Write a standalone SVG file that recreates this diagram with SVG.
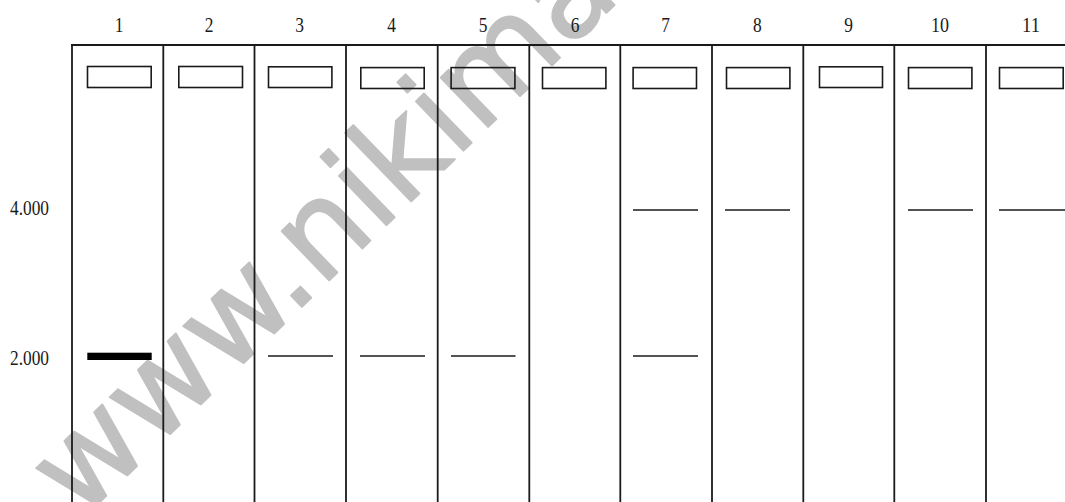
<svg xmlns="http://www.w3.org/2000/svg" width="1065" height="502" viewBox="0 0 1065 502">
<style>
.ln{stroke:#1a1a1a;stroke-width:1.8;fill:none}
.well{stroke:#1a1a1a;stroke-width:1.6;fill:none}
.band{stroke:#1a1a1a;stroke-width:1.6}
.num{font-family:"Liberation Serif","Times New Roman",serif;font-size:21px;fill:#1a1a1a;text-anchor:middle}
.lbl{font-family:"Liberation Serif","Times New Roman",serif;font-size:21px;fill:#1a1a1a}
.wm{font-family:"DejaVu Sans",Verdana,sans-serif;font-size:125px;fill:#c0c0c0;stroke:#c0c0c0;stroke-width:2;stroke-linejoin:round}
</style>
<rect width="1065" height="502" fill="#fff"/>
<text class="wm" transform="translate(80,521) rotate(-44)">www.nikimaths.com</text>
<g id="frame">
<line class="ln" x1="71" y1="45" x2="1065" y2="45"/>
</g>
<g id="markers">
<text class="lbl" x="10" y="215" textLength="39" lengthAdjust="spacingAndGlyphs">4.000</text>
<text class="lbl" x="10" y="365" textLength="39" lengthAdjust="spacingAndGlyphs">2.000</text>
</g>
<g id="lane1">
<line class="ln" x1="72" y1="45" x2="72" y2="502"/>
<text class="num" x="119" y="31.5" textLength="8.7" lengthAdjust="spacingAndGlyphs">1</text>
<rect class="well" x="87.5" y="66.5" width="63.7" height="21"/>
<rect x="87.3" y="352.7" width="64.4" height="7.3" fill="#000"/>
</g>
<g id="lane2">
<line class="ln" x1="163.3" y1="45" x2="163.3" y2="502"/>
<text class="num" x="209" y="31.5" textLength="8.7" lengthAdjust="spacingAndGlyphs">2</text>
<rect class="well" x="178.8" y="66.5" width="63.7" height="21"/>
</g>
<g id="lane3">
<line class="ln" x1="254.5" y1="45" x2="254.5" y2="502"/>
<text class="num" x="299.5" y="31.5" textLength="8.7" lengthAdjust="spacingAndGlyphs">3</text>
<rect class="well" x="268.5" y="66.8" width="63.4" height="20.7"/>
<line class="band" x1="268" y1="356" x2="333" y2="356"/>
</g>
<g id="lane4">
<line class="ln" x1="346" y1="45" x2="346" y2="502"/>
<text class="num" x="391.7" y="31.5" textLength="8.7" lengthAdjust="spacingAndGlyphs">4</text>
<rect class="well" x="360.8" y="67.6" width="63.4" height="20.9"/>
<line class="band" x1="360" y1="356" x2="425" y2="356"/>
</g>
<g id="lane5">
<line class="ln" x1="437.7" y1="45" x2="437.7" y2="502"/>
<text class="num" x="483" y="31.5" textLength="8.7" lengthAdjust="spacingAndGlyphs">5</text>
<rect class="well" x="451.1" y="67.6" width="63.8" height="20.9"/>
<line class="band" x1="451" y1="356" x2="515.5" y2="356"/>
</g>
<g id="lane6">
<line class="ln" x1="529.3" y1="45" x2="529.3" y2="502"/>
<text class="num" x="575" y="31.5" textLength="8.7" lengthAdjust="spacingAndGlyphs">6</text>
<rect class="well" x="542.5" y="67.6" width="63.4" height="20.9"/>
</g>
<g id="lane7">
<line class="ln" x1="620.3" y1="45" x2="620.3" y2="502"/>
<text class="num" x="665.5" y="31.5" textLength="8.7" lengthAdjust="spacingAndGlyphs">7</text>
<rect class="well" x="633.1" y="67.6" width="63.4" height="20.9"/>
<line class="band" x1="633" y1="210" x2="698" y2="210"/>
<line class="band" x1="633" y1="356" x2="698" y2="356"/>
</g>
<g id="lane8">
<line class="ln" x1="712" y1="45" x2="712" y2="502"/>
<text class="num" x="757.3" y="31.5" textLength="8.7" lengthAdjust="spacingAndGlyphs">8</text>
<rect class="well" x="726.5" y="67.6" width="63.4" height="20.9"/>
<line class="band" x1="725" y1="210" x2="790" y2="210"/>
</g>
<g id="lane9">
<line class="ln" x1="803.3" y1="45" x2="803.3" y2="502"/>
<text class="num" x="848.7" y="31.5" textLength="8.7" lengthAdjust="spacingAndGlyphs">9</text>
<rect class="well" x="819.5" y="66.8" width="63" height="20.7"/>
</g>
<g id="lane10">
<line class="ln" x1="894.3" y1="45" x2="894.3" y2="502"/>
<text class="num" x="940" y="31.5" textLength="18" lengthAdjust="spacingAndGlyphs">10</text>
<rect class="well" x="908.5" y="67.6" width="63.4" height="20.9"/>
<line class="band" x1="908" y1="210" x2="973" y2="210"/>
</g>
<g id="lane11">
<line class="ln" x1="986" y1="45" x2="986" y2="502"/>
<text class="num" x="1031" y="31.5" textLength="18" lengthAdjust="spacingAndGlyphs">11</text>
<rect class="well" x="999.5" y="67.6" width="63.7" height="20.9"/>
<line class="band" x1="999" y1="210" x2="1065" y2="210"/>
</g>
<g id="connectors"></g>
</svg>
